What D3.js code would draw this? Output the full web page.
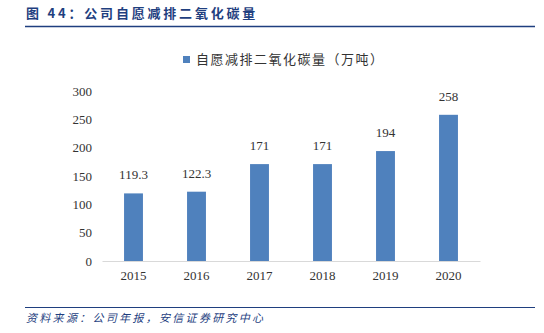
<!DOCTYPE html>
<html>
<head>
<meta charset="utf-8">
<script src="https://cdn.jsdelivr.net/npm/d3@7"></script>
<style>
  html, body { margin: 0; padding: 0; background: #fff; }
  svg { display: block; }
</style>
</head>
<body>
<svg id="chart" width="544" height="333"></svg>
<script>
// Company voluntary CO2 emission reductions, 10k tonnes
const years = ["2015", "2016", "2017", "2018", "2019", "2020"];
const reductions = [119.3, 122.3, 171, 171, 194, 258];
const valueLabels = ["119.3", "122.3", "171", "171", "194", "258"];
const yTicks = [0, 50, 100, 150, 200, 250, 300];

const titleText = "图 44：公司自愿减排二氧化碳量";
const legendText = "自愿减排二氧化碳量（万吨）";
const sourceText = "资料来源：公司年报，安信证券研究中心";

const svg = d3.select("#chart");
const navy = "#1f3f7f";
const barColor = "#4f81bd";
const serif = "'Liberation Serif', 'Times New Roman', serif";
const cjk = "'Noto Sans CJK SC', sans-serif";

// Header
svg.append("text")
  .attr("x", 26).attr("y", 18)
  .attr("font-family", cjk).attr("font-weight", "bold")
  .attr("font-size", 13).attr("fill", navy)
  .attr("letter-spacing", 2.8)
  .text(titleText);
svg.append("line")
  .attr("x1", 25).attr("x2", 535).attr("y1", 26.5).attr("y2", 26.5)
  .attr("stroke", navy).attr("stroke-width", 1.5);

// Footer
svg.append("line")
  .attr("x1", 25).attr("x2", 535).attr("y1", 307.5).attr("y2", 307.5)
  .attr("stroke", navy).attr("stroke-width", 1.2);
svg.append("text")
  .attr("x", 26).attr("y", 322)
  .attr("font-family", cjk).attr("font-style", "italic")
  .attr("font-size", 11).attr("fill", navy)
  .attr("letter-spacing", 2.3)
  .text(sourceText);

// Scales
const x = d3.scaleBand().domain(years).range([102, 480]).paddingInner(0.7).paddingOuter(0.35);
const y = d3.scaleLinear().domain([0, 300]).range([261, 91]);

// Y axis labels (no axis line)
const yAxis = svg.append("g")
  .attr("transform", "translate(92,0)")
  .call(d3.axisLeft(y).tickValues(yTicks).tickSize(0).tickPadding(0));
yAxis.select(".domain").remove();
yAxis.selectAll("text")
  .attr("font-family", serif).attr("font-size", 13).attr("fill", "#333");

// Bars
svg.append("g").selectAll("rect")
  .data(reductions)
  .join("rect")
  .attr("x", (d, i) => x(years[i]))
  .attr("width", x.bandwidth())
  .attr("y", d => y(d))
  .attr("height", d => y(0) - y(d))
  .attr("fill", barColor);

// Value labels
svg.append("g").selectAll("text")
  .data(reductions)
  .join("text")
  .attr("x", (d, i) => x(years[i]) + x.bandwidth() / 2)
  .attr("y", d => y(d) - 14)
  .attr("text-anchor", "middle")
  .attr("font-family", serif).attr("font-size", 13).attr("fill", "#333")
  .text((d, i) => valueLabels[i]);

// X axis
const xAxis = svg.append("g")
  .attr("transform", `translate(0,${y(0)})`)
  .call(d3.axisBottom(x).tickSize(0).tickPadding(10));
xAxis.select(".domain").attr("stroke", "#d9d9d9").attr("stroke-width", 1.2);
xAxis.selectAll("text")
  .attr("font-family", serif).attr("font-size", 13).attr("fill", "#333");

// Legend
const legend = svg.append("g").attr("transform", "translate(183,55)");
legend.append("rect").attr("width", 7).attr("height", 7).attr("y", 1).attr("fill", barColor);
legend.append("text")
  .attr("x", 13).attr("y", 9)
  .attr("font-family", cjk).attr("font-size", 13).attr("fill", "#333")
  .attr("letter-spacing", 1.5)
  .text(legendText);
</script>
</body>
</html>
